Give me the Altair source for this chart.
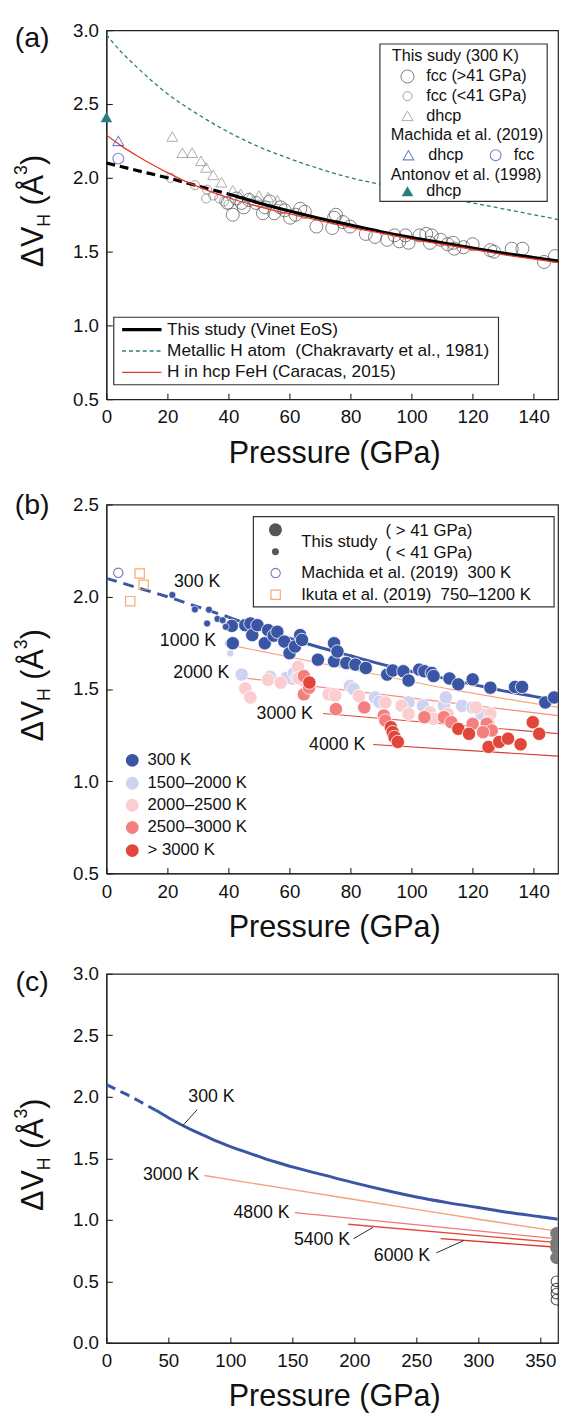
import altair as alt
import pandas as pd

FONT = "Liberation Sans"
W, H = 459, 375

XAB = [0, 147.97]
XC = [0, 364.3]
YA = [0.5, 3.0]
YB = [0.5, 2.5]
YC = [0.0, 3.0]

XMAJ_AB = [0, 20, 40, 60, 80, 100, 120, 140]
XMAJ_C = [0, 50, 100, 150, 200, 250, 300, 350]
YMAJ_A = [0.5, 1.0, 1.5, 2.0, 2.5, 3.0]
YMAJ_B = [0.5, 1.0, 1.5, 2.0, 2.5]
YMAJ_C = [0.0, 0.5, 1.0, 1.5, 2.0, 2.5, 3.0]

# ---- 300 K Vinet curve of this study (shared by all panels) ----
CURVE_P = [0, 10, 20, 30, 40, 50, 60, 70, 80, 90, 100, 110, 120, 130, 140, 150,
           175, 200, 225, 250, 275, 300, 325, 350, 364]
CURVE_V = [2.10, 2.05, 2.00, 1.945, 1.89, 1.83, 1.775, 1.725, 1.68, 1.635, 1.595,
           1.56, 1.525, 1.49, 1.46, 1.43, 1.365, 1.30, 1.24, 1.185, 1.14, 1.10,
           1.06, 1.025, 1.005]
N_DASH = 5

# ---- panel (a) ----
METAL_P = [0, 5, 10, 15, 20, 30, 40, 50, 60, 70, 80, 90, 100, 110, 120, 130, 140, 150]
METAL_V = [2.97, 2.85, 2.75, 2.655, 2.57, 2.43, 2.31, 2.21, 2.13, 2.06, 2.00, 1.955,
           1.91, 1.87, 1.83, 1.79, 1.75, 1.71]
FEH_P = [0, 5, 10, 15, 20, 25, 30, 35, 40, 50, 60, 70, 80, 90, 100, 110, 120, 130, 140, 150]
FEH_V = [2.29, 2.215, 2.15, 2.09, 2.035, 1.985, 1.94, 1.90, 1.865, 1.805, 1.755, 1.71,
         1.665, 1.625, 1.585, 1.55, 1.515, 1.48, 1.45, 1.42]
FCC_HI_P = [39.7, 41.4, 42.6, 44.3, 45, 46.7, 49, 51.3, 52, 53.5, 55, 57, 58.4, 60.2, 62,
            63.5, 65, 68.8, 74, 74.6, 75.2, 77.5, 79.8, 85, 88, 92, 94.4, 96, 98, 99,
            102.6, 104.8, 106, 106.6, 109.5, 111.8, 113.6, 114, 117, 120, 125.8, 127,
            132.8, 136.3, 143.4, 147]
FCC_HI_V = [1.83, 1.75, 1.86, 1.83, 1.80, 1.85, 1.83, 1.76, 1.80, 1.84, 1.76, 1.80, 1.78,
            1.73, 1.75, 1.79, 1.77, 1.67, 1.66, 1.73, 1.75, 1.70, 1.67, 1.62, 1.60, 1.58,
            1.61, 1.57, 1.61, 1.56, 1.61, 1.62, 1.56, 1.61, 1.58, 1.55, 1.56, 1.52, 1.53,
            1.55, 1.51, 1.50, 1.52, 1.52, 1.43, 1.47]
FCC_LO_P = [21, 29, 32.7, 33, 35, 37, 38.5, 40]
FCC_LO_V = [2.00, 1.95, 1.86, 1.92, 1.88, 1.86, 1.84, 1.82]
DHCP_P = [21.6, 24.9, 28.1, 31, 32.7, 35, 37.7, 41.4, 44, 47, 50, 53, 56]
DHCP_V = [2.28, 2.17, 2.17, 2.115, 2.07, 2.02, 1.97, 1.915, 1.89, 1.87, 1.88, 1.87, 1.85]
MACH_DHCP_P = [3.9]
MACH_DHCP_V = [2.25]
MACH_FCC_P = [3.9]
MACH_FCC_V = [2.13]
ANT_P = [0.0]
ANT_V = [2.41]

# ---- panel (b) ----
B300_P = [41.1, 41.4, 45.5, 47.2, 47.8, 49.5, 51.9, 53, 54.8, 56, 58.3, 60, 61.8, 63.5,
          64.1, 69.3, 74.6, 74.6, 75.7, 78.6, 81.6, 85, 92, 93.8, 97.3, 99, 102.5, 104.2,
          106.6, 107.2, 112.4, 115.3, 120, 125.8, 133.9, 136.2, 143.8, 146.7]
B300_V = [1.842, 1.748, 1.846, 1.855, 1.792, 1.846, 1.748, 1.819, 1.789, 1.81, 1.757,
          1.694, 1.73, 1.792, 1.766, 1.659, 1.748, 1.65, 1.703, 1.641, 1.632, 1.614,
          1.578, 1.6, 1.596, 1.546, 1.605, 1.596, 1.587, 1.57, 1.557, 1.525, 1.552,
          1.507, 1.511, 1.511, 1.427, 1.454]
B300S_P = [21.6, 29, 33, 33.6, 36.4, 38.1, 39.1]
B300S_V = [2.01, 1.931, 1.855, 1.93, 1.88, 1.873, 1.837]
B1500_P = [44.3, 53.6, 59, 61.5, 62.5, 79.8, 81, 88, 89.5, 99, 103.7, 110.6, 111.2, 116.5, 120, 122.9]
B1500_V = [1.578, 1.566, 1.56, 1.587, 1.56, 1.516, 1.50, 1.454, 1.43, 1.427, 1.409, 1.409,
           1.454, 1.409, 1.40, 1.365]
B1500S_P = [39.7, 40.6]
B1500S_V = [1.748, 1.694]
B2000_P = [45.5, 47.2, 53, 57.1, 62.8, 63, 72.8, 75, 82.7, 91.4, 96.7, 99, 106, 107.2,
           111.8, 121.1, 125.8, 125.2]
B2000_V = [1.503, 1.454, 1.55, 1.534, 1.62, 1.56, 1.471, 1.465, 1.462, 1.427, 1.409, 1.365,
           1.373, 1.338, 1.365, 1.40, 1.365, 1.32]
B2500_P = [64.7, 64.7, 66.4, 75.2, 84.5, 90.9, 91.4, 104.2, 110.6, 113, 120, 124.6, 126.3, 123.4]
B2500_V = [1.57, 1.471, 1.507, 1.391, 1.40, 1.356, 1.329, 1.347, 1.347, 1.32, 1.311, 1.311,
           1.275, 1.266]
B3000_P = [66.5, 93.2, 93.8, 94.4, 95.5, 115.3, 118.8, 125.2, 128.7, 131.6, 135.7, 139.7, 141.8]
B3000_V = [1.535, 1.293, 1.266, 1.24, 1.213, 1.284, 1.257, 1.186, 1.213, 1.231, 1.20, 1.32, 1.257]
IKUTA_P = [10.9, 12.2, 7.8]
IKUTA_V = [2.126, 2.065, 1.976]
T1000_P = [43, 80, 113, 148]
T1000_V = [1.73, 1.607, 1.498, 1.40]
T2000_P = [45, 148]
T2000_V = [1.56, 1.356]
T3000_P = [71, 148]
T3000_V = [1.367, 1.258]
T4000_P = [87.4, 148]
T4000_V = [1.199, 1.136]
LAB_B = ["300 K", "1000 K", "2000 K", "3000 K", "4000 K"]
LAB_B_P = [37.3, 35.9, 40.3, 67.6, 84.8]
LAB_B_V = [2.078, 1.757, 1.584, 1.365, 1.195]
LEG_B = ["300 K", "1500–2000 K", "2000–2500 K", "2500–3000 K", "> 3000 K"]

# ---- panel (c) ----
C3000_P = [79, 150, 200, 250, 300, 362]
C3000_V = [1.36, 1.245, 1.165, 1.085, 1.005, 0.91]
C4800_P = [152, 364]
C4800_V = [1.058, 0.845]
C5400_P = [195, 364]
C5400_V = [0.964, 0.815]
C6000_P = [269.6, 364]
C6000_V = [0.847, 0.777]
CORE_P = 363
CORE_FILLED_V = [0.89, 0.81, 0.77, 0.69]
CORE_OPEN_V = [0.50, 0.44, 0.40, 0.35]
LAB_C = ["300 K", "3000 K", "4800 K", "5400 K", "6000 K"]
LAB_C_P = [103.4, 74.7, 147.8, 196.5, 261]
LAB_C_V = [1.995, 1.36, 1.055, 0.833, 0.705]
LEAD_P1 = [73.3, 199.4, 266.1]
LEAD_V1 = [1.896, 0.847, 0.731]
LEAD_P2 = [61.8, 215, 288.2]
LEAD_V2 = [1.768, 0.938, 0.831]

BLUE = "#3b55a5"
LAV = "#cfd2f0"
PINK = "#fbcdcf"
SALMON = "#f47f7f"
REDPT = "#e2463a"
TEAL = "#2b7c7b"
FEHRED = "#e8392b"
MBLUE = "#3d4fb0"
AXC = "#222"

ONE = pd.DataFrame({"a": [0]})

# inward ticks: a negative tick length given as an expression
LAB = dict(labelFont=FONT, labelFontSize=19, labelColor="#111", labelFlush=False,
           labelOverlap=False, grid=False, title=None, ticks=True,
           tickSize=alt.ExprRef(expr="-6"), tickColor=AXC, tickWidth=1.1,
           domainColor=AXC, domainWidth=1.2)


def xaxis(vals):
    return alt.Axis(orient="bottom", values=vals, format="d", labelPadding=15, **LAB)


def yaxis(vals):
    return alt.Axis(orient="left", values=vals, format=".1f", labelPadding=14, **LAB)


XAXES = {tuple(XAB): xaxis(XMAJ_AB), tuple(XC): xaxis(XMAJ_C)}
YAXES = {tuple(YA): yaxis(YMAJ_A), tuple(YB): yaxis(YMAJ_B), tuple(YC): yaxis(YMAJ_C)}


def sc(dom):
    return alt.Scale(domain=dom, nice=False, zero=False)


def X(xd, field="P"):
    return alt.X(field + ":Q", scale=sc(xd), axis=XAXES[tuple(xd)])


def Y(yd, field="V"):
    return alt.Y(field + ":Q", scale=sc(yd), axis=YAXES[tuple(yd)])


def enc(ch, xd, yd):
    return ch.encode(x=X(xd), y=Y(yd))


def df(P, V):
    return pd.DataFrame({"P": P, "V": V})


def points(P, V, xd, yd, **mk):
    mk.setdefault("clip", True)
    return enc(alt.Chart(df(P, V)).mark_point(**mk), xd, yd)


def circles(P, V, xd, yd, **mk):
    mk.setdefault("clip", True)
    return enc(alt.Chart(df(P, V)).mark_circle(**mk), xd, yd)


def line(P, V, xd, yd, **mk):
    return enc(alt.Chart(df(P, V)).mark_line(interpolate="monotone", clip=True, **mk), xd, yd)


def dtext(P, V, labels, xd, yd, **mk):
    d = pd.DataFrame({"P": P, "V": V, "t": labels})
    return alt.Chart(d).mark_text(font=FONT, color="#111", **mk).encode(
        x=X(xd), y=Y(yd), text="t:N")


def segs(P1, V1, P2, V2, xd, yd, **mk):
    d = pd.DataFrame({"P": P1, "V": V1, "P2": P2, "V2": V2})
    return alt.Chart(d).mark_rule(**mk).encode(x=X(xd), x2="P2:Q", y=Y(yd), y2="V2:Q")


def ptext(x, y, s, size=17, align="left", baseline="middle", angle=0, color="#111"):
    return alt.Chart(ONE).mark_text(font=FONT, fontSize=size, align=align, baseline=baseline,
                                    angle=angle, color=color).encode(
        x=alt.value(x), y=alt.value(y), text=alt.value(s))


def psym(x, y, **mk):
    return alt.Chart(ONE).mark_point(**mk).encode(x=alt.value(x), y=alt.value(y))


def pdot(x, y, **mk):
    return alt.Chart(ONE).mark_circle(**mk).encode(x=alt.value(x), y=alt.value(y))


def prect(x1, y1, x2, y2):
    return alt.Chart(ONE).mark_rect(fill="white", stroke="#333", strokeWidth=1.2).encode(
        x=alt.value(x1), x2=alt.value(x2), y=alt.value(y1), y2=alt.value(y2))


def prule(x1, x2, y, **mk):
    return alt.Chart(ONE).mark_rule(**mk).encode(x=alt.value(x1), x2=alt.value(x2), y=alt.value(y))


def axis_carrier(xd, yd):
    return alt.Chart(df([xd[0]], [yd[0]])).mark_point(opacity=0).encode(x=X(xd), y=Y(yd))


def titles(letter, ly):
    return [
        ptext(-75.5, ly, letter, size=29, align="center"),
        ptext(232, H + 64.5, "Pressure (GPa)", size=31, align="center", baseline="alphabetic"),
        ptext(-64, 241, "ΔV", size=31, baseline="alphabetic", angle=270),
        ptext(-57, 199.6, "H", size=18, baseline="alphabetic", angle=270),
        ptext(-64, 178, "(Å", size=31, baseline="alphabetic", angle=270),
        ptext(-81, 147, "3", size=18, baseline="alphabetic", angle=270),
        ptext(-64, 137, ")", size=31, baseline="alphabetic", angle=270),
    ]


def panel(layers):
    return alt.layer(*layers).properties(width=W, height=H)


# ================= panel (a) =================
la = [axis_carrier(XAB, YA)]
la += [
    line(METAL_P, METAL_V, XAB, YA, color=TEAL, strokeWidth=1.3, strokeDash=[4, 3]),
    points(FCC_HI_P, FCC_HI_V, XAB, YA, shape="circle", size=175, filled=False,
           color="#4a4a4a", strokeWidth=1),
    points(FCC_LO_P, FCC_LO_V, XAB, YA, shape="circle", size=85, filled=False,
           color="#777", strokeWidth=1),
    points(DHCP_P, DHCP_V, XAB, YA, shape="triangle-up", size=125, filled=False,
           color="#8a8a8a", strokeWidth=1),
    line(CURVE_P[:N_DASH], CURVE_V[:N_DASH], XAB, YA, color="black", strokeWidth=3.2,
         strokeDash=[9, 5]),
    line(CURVE_P[N_DASH - 1:], CURVE_V[N_DASH - 1:], XAB, YA, color="black", strokeWidth=3.2),
    line(FEH_P, FEH_V, XAB, YA, color=FEHRED, strokeWidth=1.3),
    points(MACH_DHCP_P, MACH_DHCP_V, XAB, YA, shape="triangle-up", size=120, filled=False,
           color=MBLUE, strokeWidth=1.1, clip=False),
    points(MACH_FCC_P, MACH_FCC_V, XAB, YA, shape="circle", size=120, filled=False,
           color=MBLUE, strokeWidth=1.1, clip=False),
    # upper legend
    prect(278, 14, 448, 174),
    ptext(290, 26.7, "This sudy (300 K)", 16.5),
    psym(306, 47, shape="circle", size=175, filled=False, color="#4a4a4a", strokeWidth=1),
    ptext(325, 47, "fcc (>41 GPa)", 16.5),
    psym(306, 67, shape="circle", size=85, filled=False, color="#777", strokeWidth=1),
    ptext(325, 67, "fcc (<41 GPa)", 16.5),
    psym(306, 87, shape="triangle-up", size=125, filled=False, color="#8a8a8a", strokeWidth=1),
    ptext(325, 87, "dhcp", 16.5),
    ptext(289, 107, "Machida et al. (2019)", 16.5),
    psym(307, 127, shape="triangle-up", size=120, filled=False, color=MBLUE, strokeWidth=1.1),
    ptext(327, 127, "dhcp", 16.5),
    psym(395.6, 127, shape="circle", size=120, filled=False, color=MBLUE, strokeWidth=1.1),
    ptext(414, 127, "fcc", 16.5),
    ptext(289, 147.7, "Antonov et al. (1998)", 16.5),
    psym(306, 163.7, shape="triangle-up", size=140, filled=True, color=TEAL, opacity=1),
    ptext(325, 163.7, "dhcp", 16.5),
    # lower legend
    prect(7.5, 291.7, 398.5, 360.3),
    prule(16, 56, 304.3, color="black", strokeWidth=3.2),
    ptext(61.7, 304.3, "This study (Vinet EoS)", 17.5),
    prule(16, 56, 326, color=TEAL, strokeWidth=1.3, strokeDash=[4, 3]),
    ptext(61.7, 326, "Metallic H atom\u00a0 (Chakravarty et al., 1981)", 17.5),
    prule(16, 56, 347.7, color=FEHRED, strokeWidth=1.3),
    ptext(61.7, 347.7, "H in hcp FeH (Caracas, 2015)", 17.5),
    points(ANT_P, ANT_V, XAB, YA, shape="triangle-up", size=140, filled=True,
           color=TEAL, opacity=1, clip=False),
]
la += titles("(a)", 8)
pa = panel(la)

# ================= panel (b) =================
lb = [axis_carrier(XAB, YB)]
big = dict(size=185, stroke="white", strokeWidth=0.8, opacity=1)
small = dict(size=50, stroke="white", strokeWidth=0.6, opacity=1)
lb += [
    line(T1000_P, T1000_V, XAB, YB, color="#f7a382", strokeWidth=1.2),
    line(T2000_P, T2000_V, XAB, YB, color="#f48c84", strokeWidth=1.2),
    line(T3000_P, T3000_V, XAB, YB, color="#e04b3f", strokeWidth=1.2),
    line(T4000_P, T4000_V, XAB, YB, color="#d63b30", strokeWidth=1.2),
    line(CURVE_P[:N_DASH], CURVE_V[:N_DASH], XAB, YB, color=BLUE, strokeWidth=3,
         strokeDash=[11, 7]),
    line(CURVE_P[N_DASH - 1:], CURVE_V[N_DASH - 1:], XAB, YB, color=BLUE, strokeWidth=3),
    circles(B1500_P, B1500_V, XAB, YB, color=LAV, **big),
    circles(B1500S_P, B1500S_V, XAB, YB, color=LAV, **small),
    circles(B2000_P, B2000_V, XAB, YB, color=PINK, **big),
    circles(B2500_P, B2500_V, XAB, YB, color=SALMON, **big),
    circles(B3000_P, B3000_V, XAB, YB, color=REDPT, **big),
    circles(B300_P, B300_V, XAB, YB, color=BLUE, **big),
    circles(B300S_P, B300S_V, XAB, YB, color=BLUE, **small),
    points(MACH_FCC_P, MACH_FCC_V, XAB, YB, shape="circle", size=90, filled=False,
           color="#3a3f9a", strokeWidth=1.1, clip=False),
    points(IKUTA_P, IKUTA_V, XAB, YB, shape="square", size=90, filled=False,
           color="#f0883c", strokeWidth=1.2),
    dtext(LAB_B_P, LAB_B_V, LAB_B, XAB, YB, fontSize=18, align="right", baseline="middle"),
    # legend box
    prect(149.4, 12.3, 455, 104),
    pdot(171.8, 25.7, size=175, color="#555", opacity=1),
    pdot(171.8, 48, size=50, color="#555", opacity=1),
    ptext(198, 38, "This study", 17),
    ptext(283.7, 27.3, "( > 41 GPa)", 17),
    ptext(283.7, 49, "( < 41 GPa)", 17),
    psym(172, 69.7, shape="circle", size=90, filled=False, color="#3a3f9a", strokeWidth=1.1),
    ptext(198, 69.7, "Machida et al. (2019)\u00a0 300 K", 17),
    psym(172, 91.7, shape="square", size=90, filled=False, color="#f0883c", strokeWidth=1.2),
    ptext(198, 91.7, "Ikuta et al. (2019)\u00a0 750–1200 K", 17),
]
leg_colors = [BLUE, LAV, PINK, SALMON, REDPT]
leg_y = [260, 283.3, 305.7, 328.3, 351.7]
for c, yy, t in zip(leg_colors, leg_y, LEG_B):
    lb.append(pdot(26.3, yy, size=170, color=c, opacity=1))
    lb.append(ptext(41.8, yy, t, 17))
lb += titles("(b)", 1)
pb = panel(lb)

# ================= panel (c) =================
lc = [axis_carrier(XC, YC)]
lc += [
    line(C3000_P, C3000_V, XC, YC, color="#f6a07e", strokeWidth=1.4),
    line(C4800_P, C4800_V, XC, YC, color="#ef7a78", strokeWidth=1.4),
    line(C5400_P, C5400_V, XC, YC, color="#e5473d", strokeWidth=1.4),
    line(C6000_P, C6000_V, XC, YC, color="#dd3328", strokeWidth=1.4),
    line(CURVE_P[:N_DASH], CURVE_V[:N_DASH], XC, YC, color=BLUE, strokeWidth=3,
         strokeDash=[10, 6]),
    line(CURVE_P[N_DASH - 1:], CURVE_V[N_DASH - 1:], XC, YC, color=BLUE, strokeWidth=3),
    segs(LEAD_P1, LEAD_V1, LEAD_P2, LEAD_V2, XC, YC, color="#111", strokeWidth=0.9),
    circles([CORE_P] * len(CORE_FILLED_V), CORE_FILLED_V, XC, YC, size=160, color="#7a7a7a",
            opacity=1),
    points([CORE_P] * len(CORE_OPEN_V), CORE_OPEN_V, XC, YC, shape="circle", size=115,
           filled=False, color="#111", strokeWidth=1.1),
    dtext(LAB_C_P, LAB_C_V, LAB_C, XC, YC, fontSize=18, align="right", baseline="middle"),
]
lc += titles("(c)", 8)
pc = panel(lc)

chart = alt.vconcat(
    pa,
    alt.vconcat(pb, pc, spacing=102, bounds="flush"),
    spacing=107, bounds="flush",
).properties(padding={"left": 4, "top": 1, "right": 0, "bottom": 4}).configure_view(
    stroke=AXC, strokeWidth=1.2)

chart.save("out.html", embed_options={"renderer": "svg", "actions": False})
